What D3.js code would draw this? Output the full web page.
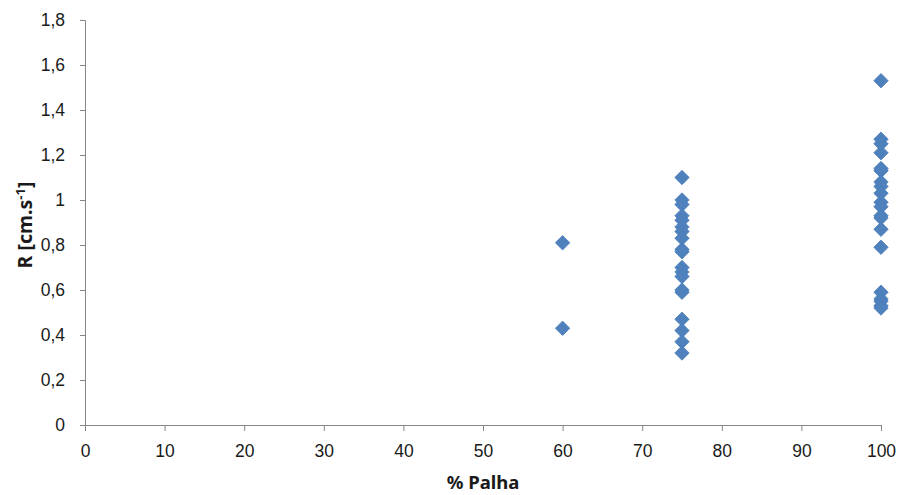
<!DOCTYPE html>
<html>
<head>
<meta charset="utf-8">
<script src="https://cdn.jsdelivr.net/npm/d3@7"></script>
<style>
  html, body { margin: 0; padding: 0; background: #fff; }
  svg { display: block; font-family: "Noto Sans", "Open Sans", "Liberation Sans", sans-serif; }
</style>
</head>
<body>
<svg id="chart" width="898" height="495"></svg>
<script>
// Straw cover (% Palha) and measured rate R [cm.s-1]
const palha60 = [60, 60];
const r60 = [0.81, 0.43];

const palha75 = Array(19).fill(75);
const r75 = [1.10, 1.00, 0.98, 0.93, 0.91, 0.88, 0.86, 0.83, 0.78, 0.77,
             0.70, 0.68, 0.66, 0.60, 0.59, 0.47, 0.42, 0.37, 0.32];

const palha100 = Array(20).fill(100);
const r100 = [1.53, 1.27, 1.25, 1.21, 1.14, 1.13, 1.08, 1.06, 1.03, 0.99,
              0.97, 0.93, 0.92, 0.87, 0.79, 0.59, 0.56, 0.55, 0.53, 0.52];

const xTicks = [0, 10, 20, 30, 40, 50, 60, 70, 80, 90, 100];
const yTicks = [0, 0.2, 0.4, 0.6, 0.8, 1.0, 1.2, 1.4, 1.6, 1.8];

const points = [];
[[palha60, r60], [palha75, r75], [palha100, r100]].forEach(([xs, ys]) => {
  xs.forEach((x, i) => points.push({ x, y: ys[i] }));
});

const svg = d3.select("#chart");
const plotLeft = 85, plotRight = 881, plotTop = 20, plotBottom = 425;

const x = d3.scaleLinear().domain([0, 100]).range([plotLeft, plotRight]);
const y = d3.scaleLinear().domain([0, 1.8]).range([plotBottom, plotTop]);
const fmt = d => String(+d.toFixed(1)).replace(".", ",");
const axisColor = "#868686";
const textColor = "#1a1a1a";

// Y axis
const gy = svg.append("g")
  .attr("transform", `translate(${plotLeft},0)`)
  .call(d3.axisLeft(y).tickValues(yTicks).tickFormat(fmt).tickSize(5).tickPadding(15));
// X axis
const gx = svg.append("g")
  .attr("transform", `translate(0,${plotBottom})`)
  .call(d3.axisBottom(x).tickValues(xTicks).tickFormat(fmt).tickSize(6).tickPadding(14));

[gx, gy].forEach(g => {
  g.select(".domain").attr("stroke", axisColor).attr("stroke-width", 1);
  g.selectAll(".tick line").attr("stroke", axisColor);
  g.selectAll(".tick text").attr("fill", textColor).style("font-size", "17.5px");
});

// Markers: diamonds (rotated squares)
const diamond = d3.symbol().type(d3.symbolSquare).size(104);
svg.append("g").selectAll("path")
  .data(points)
  .join("path")
  .attr("d", diamond)
  .attr("transform", d => `translate(${x(d.x)},${y(d.y)}) rotate(45)`)
  .attr("fill", "#4F81BD")
  .attr("stroke", "#4A7EBB")
  .attr("stroke-width", 0.75);

// Axis titles
svg.append("text")
  .attr("x", 483)
  .attr("y", 489)
  .attr("text-anchor", "middle")
  .attr("fill", textColor)
  .style("font-size", "18.5px")
  .style("font-weight", "bold")
  .text("% Palha");

const yt = svg.append("text")
  .attr("transform", `translate(32,225) rotate(-90)`)
  .attr("text-anchor", "middle")
  .attr("fill", textColor)
  .style("font-size", "19.5px")
  .style("font-weight", "bold");
yt.append("tspan").text("R [cm.s");
yt.append("tspan").attr("dy", -7).style("font-size", "13px").text("-1");
yt.append("tspan").attr("dy", 7).text("]");
</script>
</body>
</html>
